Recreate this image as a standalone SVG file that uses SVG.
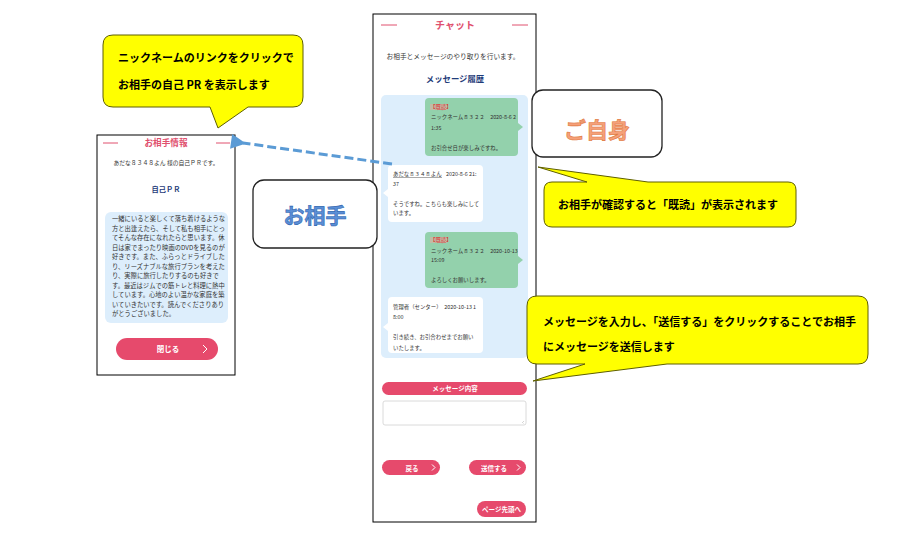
<svg xmlns="http://www.w3.org/2000/svg" width="901" height="555" viewBox="0 0 901 555">
<style>
text{font-family:"Noto Sans CJK JP","Noto Sans",sans-serif;}
.frame{fill:#fff;stroke:#000;stroke-width:1;}
.pink{fill:#e64a6c;}
.btn{fill:#fff;font-weight:bold;text-anchor:middle;}
.chev{fill:none;stroke:#fff;stroke-width:1;}
.ttl{fill:#e0506e;font-weight:bold;text-anchor:middle;}
.dash{stroke:#e0506e;stroke-width:1;}
.navy{fill:#1f3c7a;font-weight:bold;text-anchor:middle;}
.panel{fill:#ddeefc;}
.green{fill:#93d1ac;}
.white{fill:#fff;}
.msg{font-size:5.4px;fill:#333;}
.red{fill:#d9302c;}
.yel{fill:#ffff00;stroke:#5e5e00;stroke-width:1;}
.ytx{font-size:11px;font-weight:bold;fill:#000;}
.box{fill:#fff;stroke:#222;stroke-width:1.3;}
.pr{font-size:6.3px;fill:#333;}
</style>
<defs>
<marker id="ah" markerWidth="6" markerHeight="6" refX="1" refY="3" orient="auto" markerUnits="strokeWidth">
<path d="M0,3 L5,0.5 L5,5.5 Z" fill="#5b9bd5"/>
</marker>
</defs>

<g id="chat">
<rect class="frame" x="373" y="14" width="163" height="508"/>
<line class="dash" x1="381" y1="25" x2="397" y2="25"/>
<line class="dash" x1="512" y1="25" x2="528" y2="25"/>
<text class="ttl" x="455" y="29" font-size="10">チャット</text>
<text x="453" y="59" font-size="6.7" fill="#333" text-anchor="middle">お相手とメッセージのやり取りを行います。</text>
<text class="navy" x="455" y="82" font-size="8.4">メッセージ履歴</text>
<rect class="panel" x="381" y="95" width="147" height="263" rx="5"/>

<g id="msg1">
<rect class="green" x="425" y="98" width="93" height="58" rx="4"/>
<path class="green" d="M518,123 L523,127 L518,131 Z"/>
<rect x="430" y="104" width="17" height="6" fill="#f4a3a0" opacity="0.5"/>
<text class="msg red" x="430" y="109">【既読】</text>
<text class="msg" x="431" y="119">ニックネーム８３２２　2020-8-6 2</text>
<text class="msg" x="431" y="130">1:35</text>
<text class="msg" x="431" y="150">お引合せ日が楽しみですね。</text>
</g>

<g id="msg2">
<rect class="white" x="388" y="165" width="95" height="57" rx="4"/>
<path class="white" d="M388,189 L383,193 L388,197 Z"/>
<text class="msg" x="393" y="176">あだな８３４８よん</text>
<line x1="393" y1="177.5" x2="442" y2="177.5" stroke="#555" stroke-width="0.5"/>
<text class="msg" x="446" y="176">2020-8-6 21:</text>
<text class="msg" x="393" y="186">37</text>
<text class="msg" x="393" y="206">そうですね。こちらも楽しみにして</text>
<text class="msg" x="393" y="215">います。</text>
</g>

<g id="msg3">
<rect class="green" x="425" y="232" width="93" height="56" rx="4"/>
<path class="green" d="M518,256 L523,260 L518,264 Z"/>
<rect x="430" y="237" width="17" height="6" fill="#f4a3a0" opacity="0.5"/>
<text class="msg red" x="430" y="242">【既読】</text>
<text class="msg" x="431" y="253">ニックネーム８３２２　2020-10-13</text>
<text class="msg" x="431" y="262">15:09</text>
<text class="msg" x="431" y="282">よろしくお願いします。</text>
</g>

<g id="msg4">
<rect class="white" x="388" y="297" width="95" height="56" rx="4"/>
<path class="white" d="M388,323 L383,327 L388,331 Z"/>
<text class="msg" x="393" y="309">管理者（センター）　2020-10-13 1</text>
<text class="msg" x="393" y="319">8:00</text>
<text class="msg" x="393" y="339">引き続き、お引合わせまでお願い</text>
<text class="msg" x="393" y="350">いたします。</text>
</g>

<g id="input">
<rect class="pink" x="382" y="382" width="145" height="13" rx="6.5"/>
<text class="btn" x="455" y="391" font-size="6.5">メッセージ内容</text>
<rect x="383" y="401" width="143" height="24" rx="2" fill="#fff" stroke="#d0d0d0" stroke-width="0.8"/>
<path d="M524,421 L522,423 M524,423 L523.5,423.5" stroke="#aaa" stroke-width="0.5"/>
</g>

<g id="btn-back">
<rect class="pink" x="382" y="460" width="58" height="15" rx="7.5"/>
<text class="btn" x="412" y="470.5" font-size="6.5">戻る</text>
<polyline class="chev" points="432,464.5 435,467.5 432,470.5"/>
</g>
<g id="btn-send">
<rect class="pink" x="469" y="460" width="57" height="15" rx="7.5"/>
<text class="btn" x="494" y="470.5" font-size="6.5">送信する</text>
<polyline class="chev" points="517,464.5 520,467.5 517,470.5"/>
</g>
<g id="btn-top">
<rect class="pink" x="477" y="501" width="49" height="16" rx="8"/>
<text class="btn" x="501.5" y="511.5" font-size="6.5">ページ先頭へ</text>
</g>
</g>

<g id="profile">
<rect class="frame" x="97" y="135" width="138" height="240"/>
<line class="dash" x1="103" y1="143" x2="118" y2="143"/>
<line class="dash" x1="216" y1="143" x2="230" y2="143"/>
<text class="ttl" x="166" y="146" font-size="8.6">お相手情報</text>
<text x="166" y="165" font-size="5.8" fill="#333" text-anchor="middle">あだな８３４８よん 様の自己ＰＲです。</text>
<text class="navy" x="166" y="192" font-size="7.2">自己ＰＲ</text>
<rect class="panel" x="105" y="212" width="123" height="111" rx="6"/>
<text class="pr" x="112" y="221">一緒にいると楽しくて落ち着けるような</text>
<text class="pr" x="112" y="230.5">方と出逢えたら、そして私も相手にとっ</text>
<text class="pr" x="112" y="240">てそんな存在になれたらと思います。休</text>
<text class="pr" x="112" y="249.5">日は家でまったり映画のDVDを見るのが</text>
<text class="pr" x="112" y="259">好きです。また、ふらっとドライブした</text>
<text class="pr" x="112" y="268.5">り、リーズナブルな旅行プランを考えた</text>
<text class="pr" x="112" y="278">り、実際に旅行したりするのも好きで</text>
<text class="pr" x="112" y="287.5">す。最近はジムでの筋トレと料理に熱中</text>
<text class="pr" x="112" y="297">しています。心地のよい温かな家庭を築</text>
<text class="pr" x="112" y="306.5">いていきたいです。読んでくださりあり</text>
<text class="pr" x="112" y="316">がとうございました。</text>
<rect class="pink" x="116" y="338" width="102" height="22" rx="11"/>
<text class="btn" x="168" y="352" font-size="7.5">閉じる</text>
<polyline class="chev" points="203,345 207,349 203,353"/>
</g>

<g id="connectors">
<line x1="392" y1="164" x2="243" y2="143" stroke="#5b9bd5" stroke-width="3" stroke-dasharray="9,4" marker-end="url(#ah)"/>
</g>

<g id="label-aite">
<rect class="box" x="253" y="180" width="124" height="68" rx="11"/>
<text x="315" y="223" font-size="21" font-weight="bold" fill="#5b8fd6" stroke="#2f65b0" stroke-width="0.6" text-anchor="middle">お相手</text>
</g>

<g id="label-jishin">
<rect class="box" x="532" y="90" width="130" height="67" rx="11"/>
<text x="597" y="138" font-size="22" font-weight="bold" fill="#f5a07a" stroke="#e07a40" stroke-width="0.6" text-anchor="middle">ご自身</text>
</g>

<g id="callout-link">
<path class="yel" d="M113,35 H293 Q303,35 303,45 V97 Q303,107 293,107 H248 L218,128 L210,107 H113 Q103,107 103,97 V45 Q103,35 113,35 Z"/>
<text class="ytx" x="118" y="62">ニックネームのリンクをクリックで</text>
<text class="ytx" x="118" y="89">お相手の自己 PR を表示します</text>
</g>

<g id="callout-read">
<path class="yel" d="M552,182 H587 L538,167 L648,182 H788 Q796,182 796,190 V219 Q796,227 788,227 H552 Q544,227 544,219 V190 Q544,182 552,182 Z"/>
<text class="ytx" x="558" y="209">お相手が確認すると「既読」が表示されます</text>
</g>

<g id="callout-send">
<path class="yel" d="M537,296 H858 Q868,296 868,306 V354 Q868,364 858,364 H667 L533,381 L585,364 H537 Q527,364 527,354 V306 Q527,296 537,296 Z"/>
<text class="ytx" x="543" y="326">メッセージを入力し、「送信する」をクリックすることでお相手</text>
<text class="ytx" x="543" y="351">にメッセージを送信します</text>
</g>
</svg>
